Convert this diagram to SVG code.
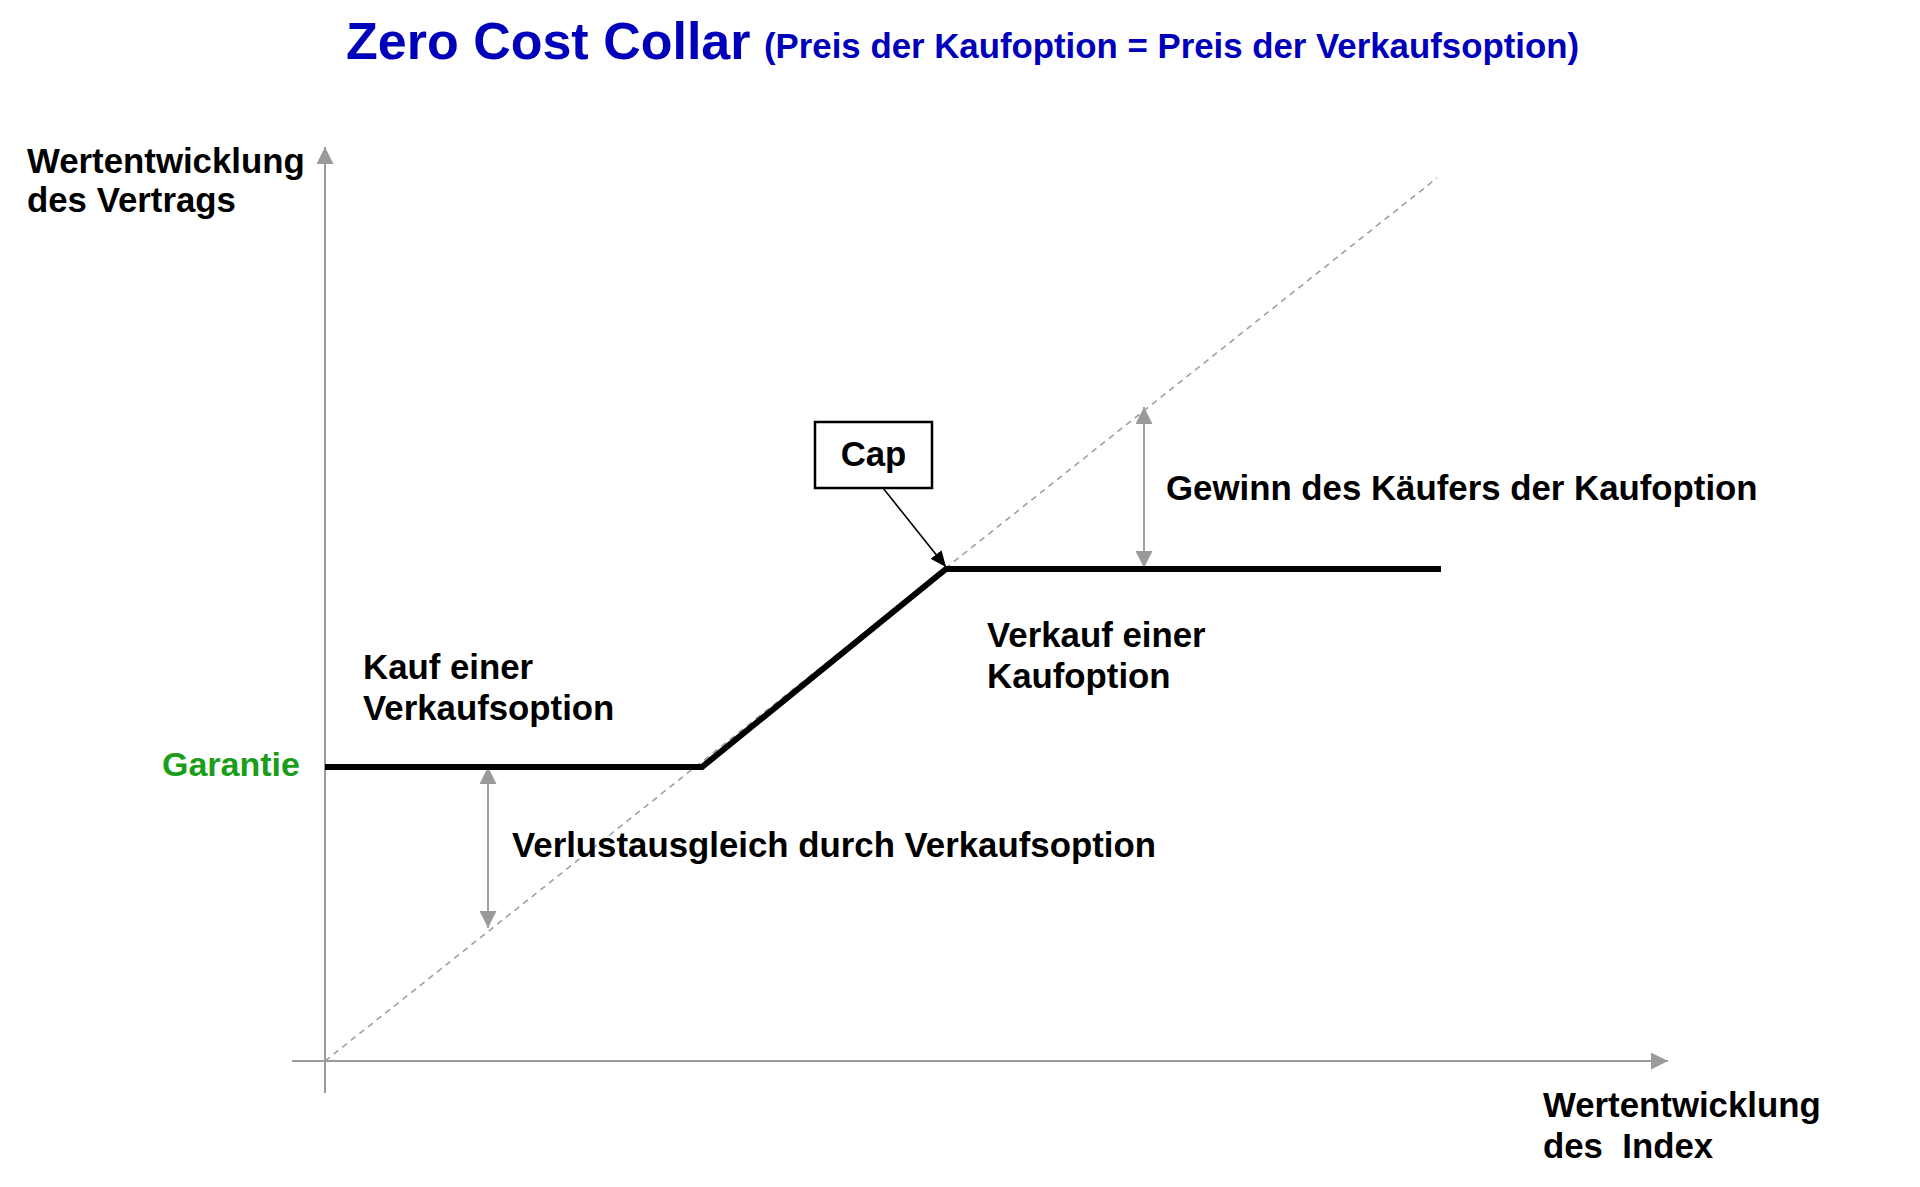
<svg xmlns="http://www.w3.org/2000/svg" width="1920" height="1187" viewBox="0 0 1920 1187">
<style>
text{font-family:"Liberation Sans",Arial,sans-serif;font-weight:bold;}
.lbl{font-size:34.8px;fill:#000;}
.ttl{fill:#0000BB;}
.axis{stroke:#9a9a9a;stroke-width:2;fill:none;}
.diag{stroke:#a0a0a0;stroke-width:1.6;stroke-dasharray:6 5;fill:none;}
.dim{stroke:#a0a0a0;stroke-width:2;fill:none;}
.pay{stroke:#000;stroke-width:6;fill:none;stroke-linejoin:miter;}
</style>
<defs>
<marker id="ga" viewBox="0 0 17 17" refX="17" refY="8.5" markerWidth="17" markerHeight="17" markerUnits="userSpaceOnUse" orient="auto-start-reverse">
<path d="M0,0 L17,8.5 L0,17 z" fill="#9a9a9a"/>
</marker>
<marker id="ba" viewBox="0 0 16 14" refX="16" refY="7" markerWidth="16" markerHeight="14" markerUnits="userSpaceOnUse" orient="auto">
<path d="M0,0 L16,7 L0,14 z" fill="#000"/>
</marker>
</defs>
<rect width="1920" height="1187" fill="#fff"/>
<g id="title">
<text class="ttl" x="346" y="59" font-size="52">Zero Cost Collar</text>
<text class="ttl" x="764" y="58" font-size="34.8">(Preis der Kaufoption = Preis der Verkaufsoption)</text>
</g>
<g id="connectors">
<line class="axis" x1="325" y1="1093" x2="325" y2="147" marker-end="url(#ga)"/>
<line class="axis" x1="292" y1="1061" x2="1668" y2="1061" marker-end="url(#ga)"/>
<line class="diag" x1="325" y1="1061" x2="1437" y2="178"/>
<line class="dim" x1="488" y1="767" x2="488" y2="928" marker-start="url(#ga)" marker-end="url(#ga)"/>
<line class="dim" x1="1144" y1="407" x2="1144" y2="568" marker-start="url(#ga)" marker-end="url(#ga)"/>
<polyline class="pay" points="325,767 702,767 946,569 1441,569"/>
<line x1="883" y1="488" x2="946" y2="567" stroke="#000" stroke-width="1.6" marker-end="url(#ba)"/>
</g>
<g id="y-axis-label">
<text class="lbl" x="27" y="173">Wertentwicklung</text>
<text class="lbl" x="27" y="212">des Vertrags</text>
</g>
<g id="x-axis-label">
<text class="lbl" x="1543" y="1117">Wertentwicklung</text>
<text class="lbl" x="1543" y="1158" xml:space="preserve">des  Index</text>
</g>
<g id="garantie">
<text x="162" y="776" font-size="34" fill="#1a9e1a">Garantie</text>
</g>
<g id="cap">
<rect x="815" y="422" width="117" height="66" fill="#fff" stroke="#000" stroke-width="2.5"/>
<text class="lbl" x="873.5" y="466" text-anchor="middle">Cap</text>
</g>
<g id="kauf-verkaufsoption">
<text class="lbl" x="363" y="679">Kauf einer</text>
<text class="lbl" x="363" y="720">Verkaufsoption</text>
</g>
<g id="verkauf-kaufoption">
<text class="lbl" x="987" y="647">Verkauf einer</text>
<text class="lbl" x="987" y="688">Kaufoption</text>
</g>
<g id="gewinn">
<text class="lbl" x="1166" y="500">Gewinn des Käufers der Kaufoption</text>
</g>
<g id="verlustausgleich">
<text class="lbl" x="512" y="857">Verlustausgleich durch Verkaufsoption</text>
</g>
</svg>
